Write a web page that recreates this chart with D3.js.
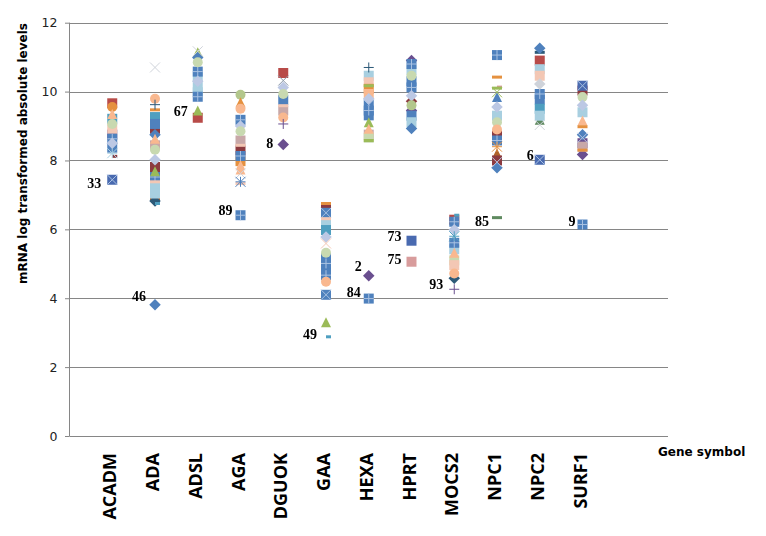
<!DOCTYPE html>
<html><head><meta charset="utf-8">
<style>html,body{margin:0;background:#fff}svg{display:block}</style>
<script src="https://cdn.jsdelivr.net/npm/d3@7"></script></head><body>
<svg id="c" width="766" height="536"></svg>
<script>
const genes=["ACADM","ADA","ADSL","AGA","DGUOK","GAA","HEXA","HPRT","MOCS2","NPC1","NPC2","SURF1"];
const yTicks=[0,2,4,6,8,10,12];
const acadmValues=[9.66,9.55,9.35,9.21,9.06,8.92,8.75,8.63,8.50,8.37,8.21,8.12,7.44];
const acadmMarks=["S:red","C:orange","T:salmon","S:teal","C:pale","S:peach","S:purple","B:blue","D:lav","S:blue","A:lblue","m:dred","K:dblue"];
const adaValues=[10.70,9.79,9.62,9.47,9.26,9.06,8.92,8.75,8.63,8.44,8.31,8.02,7.81,7.69,7.52,7.38,7.23,7.04,6.89,6.82,6.75,3.81];
const adaMarks=["X:gray","C:salmon","P:navy","M:orange","S:teal","S:blue","S:dred","D:blue","T:salmon","S:tan","C:pale","D:lav","S:dred","T:green","B:blue","M:peach","S:lblue","S:lblue","M:brown","D:navy","m:teal","D:blue"];
const adslValues=[11.17,11.14,10.99,10.85,10.58,10.42,10.30,10.13,9.98,9.85,9.45,9.24];
const adslMarks=["X:gray","T:green","D:blue","C:pale","B:blue","S:lblue","D:lav","S:lblue","S:lblue","B:blue","T:green","S:red"];
const agaValues=[9.91,9.69,9.50,9.18,9.00,8.85,8.58,8.44,8.29,8.13,7.98,7.86,7.74,7.62,7.38,7.33,6.41];
const agaMarks=["C:olive","T:orange","C:salmon","B:blue","D:lav","C:pale","S:tan","M:peach","S:dred","B:blue","S:orange","T:salmon","T:salmon","X:gray","A:blue","M:peach","B:blue"];
const dguokValues=[10.54,10.32,10.12,9.93,9.76,9.59,9.45,9.25,9.06,8.46];
const dguokMarks=["S:red","X:dgray","D:lav","C:pale","S:blue","M:peach","S:tan","C:salmon","P:purple","D:purple"];
const gaaValues=[6.75,6.60,6.48,6.31,6.17,5.98,5.78,5.59,5.32,5.16,5.01,4.82,4.67,4.48,4.10,3.30,2.88];
const gaaMarks=["M:orange","S:dred","K:blue","M:peach","S:lblue","S:teal","D:lav","X:peach","C:pale","S:blue","B:blue","S:blue","B:blue","C:salmon","K:blue","T:green","m:teal"];
const hexaValues=[10.70,10.46,10.27,10.17,10.08,9.93,9.79,9.62,9.45,9.31,9.11,8.92,8.75,8.66,8.58,4.65,3.99];
const hexaMarks=["P:navy","S:lblue","S:peach","M:green","S:orange","S:salmon","D:lav","K:blue","B:blue","S:blue","T:green","T:salmon","S:tan","S:pale","M:green","D:purple","B:blue"];
const hprtValues=[10.90,10.80,10.62,10.46,10.30,10.12,9.88,9.72,9.60,9.45,9.30,9.11,8.93,5.67,5.06];
const hprtMarks=["D:purple","B:blue","S:lblue","C:pale","S:blue","B:blue","D:lav","D:dred","C:olive","D:purple","S:blue","S:lblue","D:blue","S:dblue","S:pink"];
const mocs2Values=[6.41,6.28,6.22,5.99,5.80,5.61,5.42,5.32,5.10,4.96,4.72,4.58,4.26];
const mocs2Marks=["m:teal","S:red","B:blue","D:lav","A:teal","B:blue","S:lblue","T:salmon","S:pale","S:peach","C:salmon","D:navy","P:purple"];
const npc1Values=[11.06,10.42,10.13,10.10,9.98,9.84,9.55,9.30,9.11,8.90,8.72,8.58,8.40,8.20,8.00,7.95,7.79,6.34];
const npc1Marks=["B:blue","M:orange","m:pink","M:green","X:green","T:blue","D:lav","S:lblue","C:pale","C:salmon","S:dred","B:blue","A:orange","T:brown","S:dred","X:lav","D:blue","M:dgreen"];
const npc2Values=[11.26,11.14,10.90,10.65,10.46,10.22,9.93,9.77,9.50,9.30,9.18,9.03,8.02];
const npc2Marks=["D:blue","M:navy","S:red","S:lblue","S:peach","D:gray","B:blue","S:blue","S:teal","S:lblue","T:dgreen","X:gray","K:dblue"];
const surf1Values=[10.17,10.03,9.84,9.60,9.40,9.16,8.98,8.75,8.66,8.50,8.40,8.30,8.17,6.14];
const surf1Marks=["K:dblue","S:dred","C:pale","D:lav","S:lblue","T:salmon","M:orange","D:blue","X:lav","S:purple","S:tan","M:orange","D:purple","B:blue"];
const geneValues=[acadmValues,adaValues,adslValues,agaValues,dguokValues,gaaValues,hexaValues,hprtValues,mocs2Values,npc1Values,npc2Values,surf1Values];
const geneMarks=[acadmMarks,adaMarks,adslMarks,agaMarks,dguokMarks,gaaMarks,hexaMarks,hprtMarks,mocs2Marks,npc1Marks,npc2Marks,surf1Marks];
const outlierLabels=["33","46","67","89","8","49","2","84","73","75","93","85","6","9"];
const outlierGenes=["ACADM","ADA","ADSL","AGA","DGUOK","GAA","HEXA","HEXA","HPRT","HPRT","MOCS2","NPC1","NPC2","SURF1"];
const outlierValues=[7.44,3.81,9.45,6.41,8.46,2.88,4.65,3.99,5.67,5.06,4.26,6.34,8.02,6.14];

const palette={blue:"#4f81bd",dblue:"#4a6bb0",red:"#b84b48",green:"#9bbb59",dgreen:"#5f8a60",purple:"#6a4f8f",teal:"#4f9fc0",orange:"#e5913f",salmon:"#f9b88f",pale:"#c8d9b0",olive:"#b3c78c",lav:"#bcc8e4",lblue:"#a8cfe0",peach:"#f3c7b4",dred:"#8c3a3f",brown:"#b0642c",navy:"#2d5a78",gray:"#cfd3da",dgray:"#8a97a8",pink:"#d89c9c",tan:"#c8a8a8"};
const shape=f=>({draw(c,s){f(c,Math.sqrt(s)/2)}});
const kinds={
 S:{t:shape((c,r)=>{c.rect(-r,-r,2*r,2*r)}),fill:1},
 D:{t:shape((c,r)=>{c.moveTo(0,-r*1.15);c.lineTo(r*1.15,0);c.lineTo(0,r*1.15);c.lineTo(-r*1.15,0);c.closePath()}),fill:1},
 T:{t:shape((c,r)=>{c.moveTo(0,-r);c.lineTo(r,r);c.lineTo(-r,r);c.closePath()}),fill:1},
 C:{t:shape((c,r)=>{c.arc(0,0,r,0,2*Math.PI)}),fill:1},
 M:{t:shape((c,r)=>{c.rect(-r,-1.5,2*r,3)}),fill:1},
 m:{t:shape((c,r)=>{c.rect(0,-1.5,r,3)}),fill:1},
 X:{t:shape((c,r)=>{c.moveTo(-r,-r);c.lineTo(r,r);c.moveTo(r,-r);c.lineTo(-r,r)})},
 P:{t:shape((c,r)=>{c.moveTo(-r,0);c.lineTo(r,0);c.moveTo(0,-r);c.lineTo(0,r)})},
 A:{t:shape((c,r)=>{c.moveTo(-r,-r);c.lineTo(r,r);c.moveTo(r,-r);c.lineTo(-r,r);c.moveTo(-r,0);c.lineTo(r,0);c.moveTo(0,-r);c.lineTo(0,r)})}
};
const svg=d3.select("#c");
const slots=["_start",...genes,"_end1","_end2"];
const x=d3.scalePoint().domain(slots).range([69.5,668]);
const y=d3.scaleLinear().domain([0,12]).range([436,22.7]);
const axis=svg.append("g").attr("transform","translate(69.5,0)").call(d3.axisLeft(y).tickValues(yTicks).tickSize(4.5).tickPadding(7.5));
axis.select(".domain").attr("stroke","#868686").attr("d",`M0,${y(12)}V${y(0)}`);
axis.selectAll(".tick line").attr("stroke","#868686");
axis.selectAll(".tick text").attr("fill","#222").style("font","12.5px 'DejaVu Sans'");
svg.append("g").selectAll("line").data(yTicks).join("line").attr("x1",69.5).attr("x2",668)
 .attr("y1",d=>Math.round(y(d))+.5).attr("y2",d=>Math.round(y(d))+.5).attr("stroke","#868686");

const defs=svg.append("defs");
defs.append("filter").attr("id","soft").append("feGaussianBlur").attr("stdDeviation",0.4);
const pts=[];
genes.forEach((g,i)=>geneValues[i].forEach((v,j)=>{const [k,c]=geneMarks[i][j].split(":");pts.push({g,v,k,c})}));
const darkColours=new Set(["navy","dred","purple","brown","dgreen"]);
const strokeKinds=new Set(["X","P","A"]);
const tier=d=>strokeKinds.has(d.k)?4:darkColours.has(d.c)?0:d.k==="S"?1:(d.k==="B"||d.k==="K")?2:3;
pts.sort((a,b)=>tier(a)-tier(b));
const sym=k=>d3.symbol().type(kinds[k].t).size(100)();
const mg=svg.append("g").attr("filter","url(#soft)");
const node=mg.selectAll("g").data(pts).join("g").attr("transform",d=>`translate(${x(d.g)},${y(d.v)})`);
node.each(function(d){
 const s=d3.select(this);
 if(d.k==="B"||d.k==="K"){
  s.append("path").attr("d",sym("S")).attr("fill",palette[d.c]);
  s.append("path").attr("d",sym(d.k==="B"?"P":"X")).attr("fill","none").attr("stroke","#a9c2e2").attr("stroke-width",1);
 } else if(kinds[d.k].fill){
  s.append("path").attr("d",sym(d.k)).attr("fill",palette[d.c]);
 } else {
  s.append("path").attr("d",sym(d.k)).attr("fill","none").attr("stroke",palette[d.c]).attr("stroke-width",1);
 }
});
const labelShift={"33":[-11,4],"46":[-9,-8],"67":[-10,1],"89":[-8,-5],"8":[-10,-1],"49":[-9,-2],"2":[-7,-9],"84":[-8,-6],"73":[-10,-4],"75":[-10,-2],"93":[-11,-5],"85":[-8,4],"6":[-6,-4],"9":[-7,-3]};
svg.append("g").selectAll("text").data(outlierLabels).join("text")
 .attr("x",(d,i)=>x(outlierGenes[i])+labelShift[d][0]).attr("y",(d,i)=>y(outlierValues[i])+labelShift[d][1]+4.5)
 .attr("text-anchor","end").style("font","bold 14px 'Liberation Serif'").attr("fill","#000").text(d=>d);
svg.append("g").selectAll("text").data(genes).join("text")
 .attr("transform",d=>`translate(${x(d)+4},453) rotate(-90)`).attr("text-anchor","end")
 .style("font","700 18px 'Open Sans'").attr("fill","#000").text(d=>d);
svg.append("text").attr("transform","translate(27,153.5) rotate(-90)").attr("text-anchor","middle")
 .style("font","bold 12px 'DejaVu Sans'").attr("fill","#000").text("mRNA log transformed absolute levels");
svg.append("text").attr("x",658).attr("y",456).style("font","bold 12px 'DejaVu Sans'").attr("fill","#000").text("Gene symbol");
</script></body></html>
